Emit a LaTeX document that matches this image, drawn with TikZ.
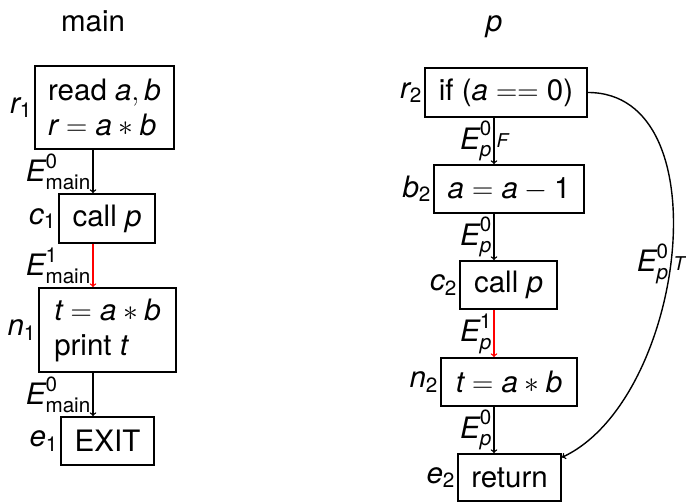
\RequirePackage{fix-cm}
\documentclass[tikz,border=0pt]{standalone}
\usepackage{amsmath}
\usepackage{fontspec}
\setmainfont{TeX Gyre Heros}
\newcommand\vv[1]{\text{\itshape #1}}
\newcommand\nn[1]{\text{#1}}
\begin{document}
\begin{tikzpicture}[x=1pt,y=-1pt,
  font=\fontsize{29.5}{35}\selectfont,
  box/.style={draw, line width=1.8pt, align=left, inner sep=0pt},
  lab/.style={inner sep=2pt},
  arr/.style={->, line width=1.4pt},
  elab/.style={inner sep=1.5pt},
  small/.style={inner sep=2pt, font=\fontsize{19}{20}\selectfont\itshape}]
\useasboundingbox (0,0) rectangle (686,502);
\coordinate (L) at (93,0);
\coordinate (R) at (494,0);
\node[anchor=base] (tmain) at (93,32) {main};
\node[anchor=base] (tp) at (494,32) {$\vv{p}$};
% main
\node[box, minimum width=139pt, minimum height=83pt, label={[lab]left:$\vv{r}_{\nn{1}}$}] (r1) at (104.5,107.5) {read $\vv{a}, \vv{b}$\\$\vv{r} = \vv{a} \ast \vv{b}$};
\node[box, minimum width=96pt, minimum height=49pt, label={[lab]left:$\vv{c}_{\nn{1}}$}] (c1) at (107,218.5) {call $\vv{p}$};
\node[box, minimum width=137pt, minimum height=84pt, label={[lab]left:$\vv{n}_{\nn{1}}$}] (n1) at (107.5,330) {$\vv{t} = \vv{a} \ast \vv{b}$\\print $\vv{t}$};
\node[box, minimum width=93pt, minimum height=48pt, label={[lab]left:$\vv{e}_{\nn{1}}$}] (e1) at (107.5,441) {EXIT};
% p
\node[box, minimum width=162pt, minimum height=49pt, label={[lab]left:$\vv{r}_{\nn{2}}$}] (r2) at (506,92.5) {if ($\vv{a} == \nn{0}$)};
\node[box, minimum width=150pt, minimum height=48pt, label={[lab]left:$\vv{b}_{\nn{2}}$}] (b2) at (509,189) {$\vv{a} = \vv{a} - \nn{1}$};
\node[box, minimum width=97pt, minimum height=48pt, label={[lab]left:$\vv{c}_{\nn{2}}$}] (c2) at (508.5,285) {call $\vv{p}$};
\node[box, minimum width=136pt, minimum height=48pt, label={[lab]left:$\vv{n}_{\nn{2}}$}] (n2) at (509,382) {$\vv{t} = \vv{a} \ast \vv{b}$};
\node[box, minimum width=103pt, minimum height=47pt, label={[lab]left:$\vv{e}_{\nn{2}}$}] (e2) at (509.5,477.5) {return};
% edges main
\draw[arr] (r1.south -| L) -- node[midway,left,elab] {$\vv{E}^{\nn{0}}_{\nn{main}}$} (c1.north -| L);
\draw[arr, red] (c1.south -| L) -- node[midway,left,elab,black] {$\vv{E}^{\nn{1}}_{\nn{main}}$} (n1.north -| L);
\draw[arr] (n1.south -| L) -- node[midway,left,elab] {$\vv{E}^{\nn{0}}_{\nn{main}}$} (e1.north -| L);
% edges p
\draw[arr] (r2.south -| R) -- node[midway,left,elab] {$\vv{E}^{\nn{0}}_{\vv{p}}$} node[midway,right,small] {F} (b2.north -| R);
\draw[arr] (b2.south -| R) -- node[midway,left,elab] {$\vv{E}^{\nn{0}}_{\vv{p}}$} (c2.north -| R);
\draw[arr, red] (c2.south -| R) -- node[midway,left,elab,black] {$\vv{E}^{\nn{1}}_{\vv{p}}$} (n2.north -| R);
\draw[arr] (n2.south -| R) -- node[midway,left,elab] {$\vv{E}^{\nn{0}}_{\vv{p}}$} (e2.north -| R);
\draw[arr] (r2.east) to[out=0, in=25, looseness=0.95] node[pos=0.52,left,elab] {$\vv{E}^{\nn{0}}_{\vv{p}}$} node[pos=0.52,right,small] {T} (e2.21);
\end{tikzpicture}
\end{document}
